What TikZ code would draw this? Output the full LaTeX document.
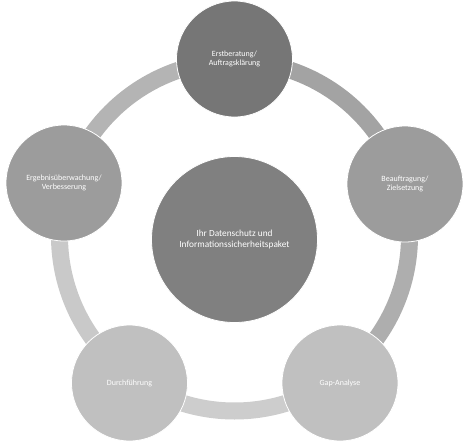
\documentclass[tikz,border=0pt]{standalone}
\usepackage{fontspec}
\setmainfont{Carlito}
\usetikzlibrary{calc}
\definecolor{cTop}{HTML}{767676}
\definecolor{cMid}{HTML}{808080}
\definecolor{cSide}{HTML}{9C9C9C}
\definecolor{cLow}{HTML}{C0C0C0}
\definecolor{sA}{HTML}{A3A3A3}
\definecolor{sB}{HTML}{AEAEAE}
\definecolor{sC}{HTML}{CDCDCD}
\definecolor{sD}{HTML}{C9C9C9}
\definecolor{sE}{HTML}{B4B4B4}
\begin{document}
\begin{tikzpicture}[x=1pt,y=-1pt,
  stage/.style={circle,draw=white,line width=0.8pt,minimum size=116pt,inner sep=0pt,
    text=white,align=center,font=\fontsize{8}{9.4}\selectfont},
  hub/.style={circle,draw=white,line width=0.8pt,minimum size=166pt,inner sep=0pt,
    fill=cMid,text=white,align=center,font=\fontsize{9.3}{10.3}\selectfont},
  seg/.style={line width=17pt}]
\useasboundingbox (0,0) rectangle (475,445);
\coordinate (rc) at (234.5,236);
\draw[seg,sA] ($(rc)+(-90:175)$) arc[start angle=-90,end angle=-18,radius=175];
\draw[seg,sB] ($(rc)+(-18:175)$) arc[start angle=-18,end angle=54,radius=175];
\draw[seg,sC] ($(rc)+(54:175)$) arc[start angle=54,end angle=126,radius=175];
\draw[seg,sD] ($(rc)+(126:175)$) arc[start angle=126,end angle=198,radius=175];
\draw[seg,sE] ($(rc)+(198:175)$) arc[start angle=198,end angle=270,radius=175];
\node[hub] (hub) at (234.5,239.5) {Ihr Datenschutz und\\Informationssicherheitspaket};
\node[stage,fill=cTop] (s1) at (234.5,59) {Erstberatung/\\Auftragsklärung};
\node[stage,fill=cSide] (s2) at (405,184) {Beauftragung/\\Zielsetzung};
\node[stage,fill=cLow] (s3) at (340,383) {Gap-Analyse};
\node[stage,fill=cLow] (s4) at (129.5,383) {Durchführung};
\node[stage,fill=cSide] (s5) at (64,183) {Ergebnisüberwachung/\\Verbesserung};
\end{tikzpicture}
\end{document}
